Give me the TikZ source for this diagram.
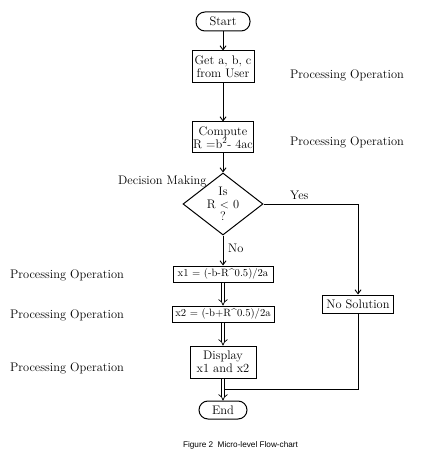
\documentclass[tikz,border=0pt]{standalone}
\usepackage{fontspec}
\newfontfamily\capfont{Liberation Sans}
\usetikzlibrary{arrows.meta,shapes.geometric}
\begin{document}
\begin{tikzpicture}[x=1pt,y=-1pt,
  every node/.style={font=\fontsize{12.4}{13}\selectfont},
  box/.style={draw, line width=1pt, rectangle, inner sep=1pt, align=center},
  term/.style={draw, line width=1pt, rectangle, rounded corners=9pt, inner sep=1pt},
  eqbox/.style={draw, line width=1pt, rectangle, inner sep=1pt, font=\fontsize{10.6}{12}\selectfont, minimum height=16pt},
  decbox/.style={draw, line width=1pt, diamond, minimum width=80pt, minimum height=62pt, inner sep=0pt},
  lbl/.style={anchor=west, inner sep=0pt},
  flow/.style={line width=0.9pt, -{Straight Barb[length=4pt,width=6pt]}},
  dbl/.style={line width=0.7pt, double, double distance=2.6pt, -Implies},
  plain/.style={line width=0.9pt}
]
\fill[white] (0,0) rectangle (423,465);
\useasboundingbox (0,0) rectangle (423,465);

\node[term, minimum width=54pt, minimum height=19pt] (start) at (223,21.5) {Start};
\node[box, minimum width=62pt, minimum height=32pt] (get) at (223,67) {Get a, b, c\\from User};
\node[box, minimum width=60pt, minimum height=31pt] (comp) at (223,137.5) {Compute\\R =b\textsuperscript{2}- 4ac};
\node[decbox, label={[align=center, inner sep=0pt, font=\fontsize{12.4}{12.5}\selectfont]center:{Is\\R $<$ 0\\?}}] (dec) at (223,204) {};
\node[eqbox, minimum width=100pt] (x1) at (223,274) {x1 = (-b-R\textasciicircum0.5)/2a};
\node[eqbox, minimum width=102pt] (x2) at (223,314) {x2 = (-b+R\textasciicircum0.5)/2a};
\node[box, minimum width=66pt, minimum height=32pt] (disp) at (223,362) {Display\\x1 and x2};
\node[term, minimum width=48pt, minimum height=18pt] (end) at (223,410) {End};
\node[box, minimum width=71pt, minimum height=18pt] (nosol) at (358,304) {No Solution};

\coordinate (join) at (225.3,389);

\draw[flow] (start) -- (get);
\draw[flow] (get) -- (comp);
\draw[flow] (comp) -- (dec);
\draw[flow] (dec) -- (x1);
\draw[flow] (dec.east) -- (dec.east -| nosol) -- (nosol);
\draw[dbl] (x1) -- (x2);
\draw[dbl] (x2) -- (disp);
\draw[dbl] (disp) -- (end);
\draw[plain] (nosol) |- (join);

\node[lbl] (p1) at (290,75) {Processing Operation};
\node[lbl] (p2) at (290,142) {Processing Operation};
\node[lbl] (dm) at (118,181) {Decision Making};
\node[lbl] (yes) at (290,195) {Yes};
\node[lbl] (no) at (228,248) {No};
\node[lbl] (p3) at (10,275) {Processing Operation};
\node[lbl] (p4) at (10,315) {Processing Operation};
\node[lbl] (p5) at (10,368) {Processing Operation};
\node[inner sep=0pt, font=\capfont\fontsize{8.2}{9}\selectfont] (cap) at (240.5,445) {Figure 2\ \ Micro-level Flow-chart};
\end{tikzpicture}
\end{document}
